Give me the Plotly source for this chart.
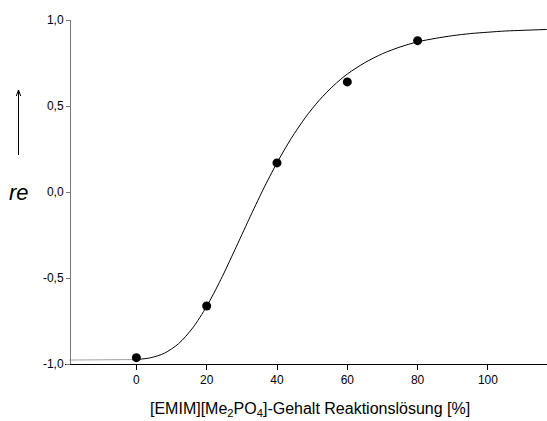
import plotly.graph_objects as go

# Measured points
conc = [0, 20, 40, 60, 80]
re_vals = [-0.963, -0.663, 0.169, 0.640, 0.880]

# Fitted sigmoid, sampled along its course
fit_x = [0, 4, 8, 12, 16, 20, 24, 28, 32, 36, 40, 44, 48, 52, 56, 60,
         65, 70, 75, 80, 85, 90, 95, 100, 105, 110, 116.7]
fit_y = [-0.974, -0.964, -0.937, -0.882, -0.791, -0.665, -0.510, -0.337,
         -0.160, 0.012, 0.170, 0.310, 0.431, 0.533, 0.617, 0.686, 0.752,
         0.804, 0.843, 0.873, 0.893, 0.909, 0.921, 0.929, 0.936, 0.940,
         0.945]

# Extrapolated part of the fit below 0 %
ext_x = [-19, -10, -5, 0]
ext_y = [-0.977, -0.977, -0.976, -0.974]

x_ticks = [0, 20, 40, 60, 80, 100]
y_ticks = [-1.0, -0.5, 0.0, 0.5, 1.0]
y_ticktext = ["-1,0", "-0,5", "0,0", "0,5", "1,0"]

W, H = 547, 421
L, R, T, B = 65, 0, 20, 57
PW, PH = W - L - R, H - T - B


def px(x):
    return (x - L) / PW


def py(y):
    return (H - B - y) / PH


FONT = "Liberation Sans, Arial, sans-serif"

fig = go.Figure()
fig.add_trace(go.Scatter(x=ext_x, y=ext_y, mode="lines",
                         line=dict(color="#444444", width=1, dash="1px,1px"),
                         hoverinfo="skip"))
fig.add_trace(go.Scatter(x=fit_x, y=fit_y, mode="lines",
                         line=dict(color="black", width=1, shape="spline",
                                   smoothing=0.8),
                         hoverinfo="skip"))
fig.add_trace(go.Scatter(x=conc, y=re_vals, mode="markers",
                         marker=dict(color="black", size=9)))

fig.update_layout(
    width=W, height=H,
    margin=dict(l=L, r=R, t=T, b=B),
    paper_bgcolor="white", plot_bgcolor="white",
    showlegend=False,
    font=dict(family=FONT, size=12, color="black"),
    xaxis=dict(range=[-20.3, 116.8], tickvals=x_ticks, ticks="outside",
               ticklen=5, tickcolor="black", showline=True, linecolor="black",
               linewidth=1, showgrid=False, zeroline=False,
               tickfont=dict(size=12)),
    yaxis=dict(range=[-1, 1], tickvals=y_ticks, ticktext=y_ticktext,
               ticks="outside", ticklen=4, tickcolor="#777777",
               showline=True, linecolor="#777777", linewidth=1,
               showgrid=False, zeroline=False, anchor="free",
               position=px(70), tickfont=dict(size=12)),
)

# x-axis title
fig.add_annotation(x=px(310), y=py(409), xref="paper", yref="paper",
                   text="[EMIM][Me<sub>2</sub>PO<sub>4</sub>]-Gehalt Reaktionslösung [%]",
                   showarrow=False, font=dict(size=16), xanchor="center",
                   yanchor="middle")

# y-axis label with arrow
fig.add_annotation(x=px(19), y=py(192), xref="paper", yref="paper",
                   text="<i>re</i>", showarrow=False, font=dict(size=22),
                   xanchor="center", yanchor="middle")
fig.add_shape(type="line", xref="paper", yref="paper",
              x0=px(18.5), x1=px(18.5), y0=py(155), y1=py(90.5),
              line=dict(color="black", width=1))
fig.add_shape(type="path", xref="paper", yref="paper",
              path=f"M {px(16.3)},{py(96)} L {px(18.5)},{py(90)} L {px(20.7)},{py(96)}",
              line=dict(color="black", width=1))

fig.write_html("out.html")
